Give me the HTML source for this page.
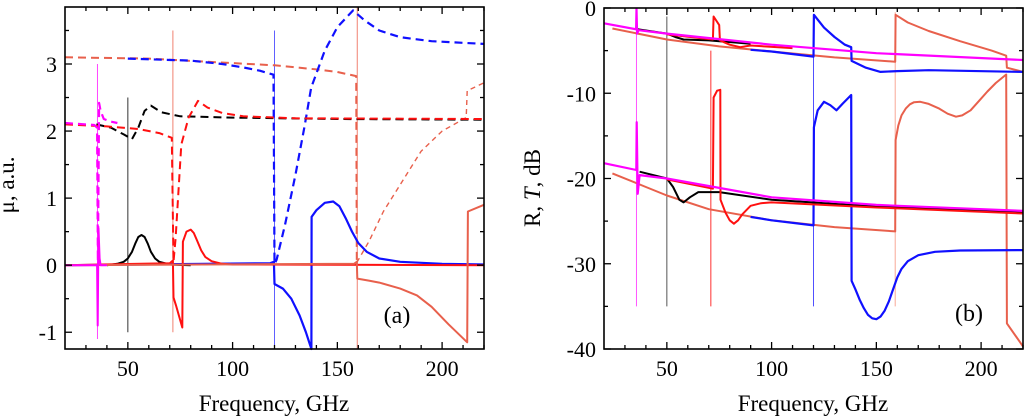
<!DOCTYPE html>
<html><head><meta charset="utf-8"><style>
body{margin:0;background:#fff;}
svg{display:block;font-family:"Liberation Serif",serif;}
</style></head><body>
<svg id="chart" width="1024" height="417" viewBox="0 0 1024 417" xmlns="http://www.w3.org/2000/svg"></svg>
<script>
// ---------- data: panel (a) mu ----------
const xTicks = [50, 100, 150, 200];
const aYTicks = [-1, 0, 1, 2, 3];
const bYTicks = [0, -10, -20, -30, -40];

const aMagentaDash = [[20,2.12],[34,2.09],[35.3,2.05],[35.7,0.05],[36.3,2.42],[37,2.3],[38.5,2.18],[42,2.14],[45,2.12]];
const aMagentaSolid = [[20,0],[35.3,0],[35.6,-0.9],[36,0.55],[36.5,0.1],[37,0],[40,0]];
const aBlackDash = [[35,2.1],[42,2.05],[48,1.95],[52,1.88],[55,2.05],[58,2.3],[61,2.38],[66,2.28],[75,2.22],[100,2.2],[150,2.18],[220,2.17]];
const aBlackSolid = [[40,0],[45,0.02],[48,0.05],[50,0.1],[52,0.2],[53.5,0.32],[55,0.42],[56.5,0.45],[58,0.42],[59.5,0.32],[61,0.2],[63,0.1],[65,0.05],[70,0.01],[80,0]];
const aRedDash = [[20,2.1],[40,2.07],[55,2.03],[65,1.97],[71,1.9],[71.8,0.05],[72.8,0.4],[75.5,1.8],[79,2.2],[83.5,2.45],[88,2.35],[95,2.27],[105,2.22],[130,2.19],[220,2.18]];
const aRedSolid = [[20,0],[70,0.03],[71.5,0.07],[71.8,-0.48],[73,-0.6],[76,-0.93],[76.3,0.35],[78,0.5],[80,0.53],[81.5,0.48],[83,0.37],[85,0.22],[87,0.12],[90,0.06],[95,0.02],[100,0.01],[220,0]];
const aBlueDash = [[50,3.08],[80,3.05],[95,3.0],[105,2.95],[113,2.9],[119.5,2.84],[120,0.02],[121,0.08],[125,0.6],[130,1.35],[134.5,2.1],[137.5,2.65],[144,3.2],[150,3.55],[157.5,3.8],[163,3.65],[170,3.5],[180,3.4],[195,3.34],[220,3.3]];
const aBlueSolid = [[20,0],[118,0.03],[119.7,0.05],[120,-0.28],[124,-0.35],[128,-0.5],[132,-0.75],[135,-1.0],[137.6,-1.25],[137.7,0.72],[140,0.82],[144,0.93],[148,0.95],[151,0.88],[154,0.7],[157,0.5],[160,0.33],[164,0.2],[170,0.1],[180,0.05],[200,0.02],[220,0.01]];
const aSalmonDash = [[20,3.1],[60,3.08],[90,3.03],[120,2.98],[140,2.92],[150,2.88],[159,2.82],[159.3,0.04]];
const aSalmonThinDash = [[159.3,0.04],[165,0.35],[172,0.8],[180,1.2],[190,1.7],[200,2.0],[211.5,2.2],[212,2.6],[220,2.72]];
const aSalmonSolid = [[20,0],[158,0.02],[159.3,0.05],[159.5,-0.2],[165,-0.23],[170,-0.26],[180,-0.35],[188,-0.45],[195,-0.62],[203,-0.88],[212,-1.15],[212.3,0.8],[220,0.9]];
const aMarkers = [[35.5,-1.1,3.0,'#ff44ff'],[50,-1.0,2.5,'#333333'],[71.5,-1.0,3.5,'#f08070'],[120,-1.25,3.5,'#6060ff'],[159.5,-1.25,3.85,'#f08070']];

// ---------- data: panel (b) R,T dB ----------
const bMagentaT = [[20,-1.8],[35.3,-2.5],[35.5,-0.1],[35.8,-3.0],[36.5,-2.6],[50,-3.0],[100,-4.3],[150,-5.3],[220,-6.1]];
const bMagentaR = [[20,-18.2],[35.4,-19.0],[35.6,-13.4],[36.1,-21.8],[37,-19.6],[50,-20.0],[100,-22.2],[150,-23.1],[220,-23.8]];
const bBlackT = [[36,-2.5],[50,-3.0],[54,-3.4],[58,-3.7],[70,-3.8],[90,-4.2]];
const bBlackR = [[37,-19.2],[50,-20.0],[53,-21],[56,-22.5],[58,-22.8],[61,-22.2],[65,-21.6],[75,-21.6],[100,-22.5],[150,-23.3],[220,-23.9]];
const bRedT = [[50,-3.1],[72,-3.7],[72.3,-1.0],[75,-2.0],[75.3,-3.8],[80,-4.3],[85,-4.6],[90,-4.4],[110,-4.7]];
const bRedR = [[50,-20.1],[72,-21.2],[72.3,-10.5],[74,-9.7],[75.5,-9.6],[75.6,-22.5],[78,-24],[80,-24.9],[82,-25.3],[84,-24.9],[86,-24.2],[90,-23.2],[95,-22.9],[100,-22.8],[150,-23.4],[220,-24.1]];
const bBlueT = [[90,-4.9],[100,-5.1],[120,-5.7],[120.2,-0.8],[125,-2.3],[130,-3.4],[135,-4.3],[138,-4.6],[138.2,-6.2],[145,-7.0],[152,-7.5],[160,-7.4],[175,-7.3],[220,-7.5]];
const bBlueR = [[90,-24.5],[100,-24.9],[120,-25.5],[120.2,-14],[122,-12],[125,-11.0],[128,-11.4],[131,-12.0],[134,-11.2],[138,-10.2],[138.2,-32],[140,-33],[142,-34.2],[144,-35.2],[146,-36],[148,-36.4],[150,-36.5],[152,-36.2],[154,-35.5],[156,-34.4],[158,-33],[160,-31.6],[162,-30.6],[165,-29.7],[170,-29],[178,-28.6],[190,-28.45],[220,-28.4]];
const bSalmonT = [[24,-2.4],[50,-3.7],[75,-4.5],[100,-5.1],[130,-5.8],[159,-6.3],[159.2,-0.8],[165,-1.7],[175,-2.7],[190,-3.9],[205,-5.0],[212,-5.6],[212.3,-7.0],[220,-7.5]];
const bSalmonR = [[24,-19.4],[40,-21],[50,-22],[70,-23.6],[100,-24.9],[130,-25.7],[159,-26.2],[159.2,-15.5],[160.5,-13.8],[162,-12.6],[164,-11.8],[166,-11.3],[168,-11.05],[171,-11.0],[175,-11.25],[180,-11.8],[184,-12.4],[188,-12.75],[191,-12.6],[195,-12.0],[199,-10.9],[203,-9.8],[207,-8.8],[212,-7.8],[212.3,-37],[220,-39.7]];
const bMarkers = [[35.5,-35,0,'#ff55ff'],[50,-35,-1,'#555555'],[71,-35,-5,'#ff3030'],[120,-35,-5.5,'#5050ff'],[159,-35,-0.5,'#f8a898']];

// ---------- drawing ----------
const svg = document.getElementById('chart');
const NS = 'http://www.w3.org/2000/svg';
function mk(tag, attrs, parent){const e=document.createElementNS(NS,tag);for(const k in attrs)e.setAttribute(k,attrs[k]);(parent||svg).appendChild(e);return e;}

function makePanel(L,R,T,B,x0,x1,y0,y1){
  return {L,R,T,B,sx:v=>L+(v-x0)/(x1-x0)*(R-L),sy:v=>B-(v-y0)/(y1-y0)*(B-T),x0,x1,y0,y1};
}
const pa = makePanel(65,484,7,349,20,220,-1.25,3.85);
const pb = makePanel(604,1023,8,349,20,220,-40,0);

function frame(p,name,yTicks,yMinorStep,yLabelX){
  const g=mk('g',{});
  
  
  for(let v=30;v<=p.x1;v+=10){
    const major=v%50===0, len=major?7:4, x=p.sx(v);
    mk('line',{x1:x,x2:x,y1:p.B,y2:p.B-len,stroke:'#000','stroke-width':1.3},g);
    mk('line',{x1:x,x2:x,y1:p.T,y2:p.T+len,stroke:'#000','stroke-width':1.3},g);
  }
  for(let v=Math.ceil(p.y0/yMinorStep)*yMinorStep;v<=p.y1+1e-9;v+=yMinorStep){
    const major=yTicks.some(t=>Math.abs(t-v)<1e-6), len=major?7:4, y=p.sy(v);
    mk('line',{x1:p.L,x2:p.L+len,y1:y,y2:y,stroke:'#000','stroke-width':1.3},g);
    mk('line',{x1:p.R,x2:p.R-len,y1:y,y2:y,stroke:'#000','stroke-width':1.3},g);
  }
  xTicks.forEach(v=>{const t=mk('text',{x:p.sx(v),y:p.B+27,'text-anchor':'middle','font-size':22},g);t.textContent=v;
    
    });
  yTicks.forEach(v=>{const t=mk('text',{x:yLabelX,y:p.sy(v)+8,'text-anchor':'end','font-size':22},g);t.textContent=v;
    
    });
}

function line(p,data,color,w,dash,name){
  const d=data.map((pt,i)=>(i?'L':'M')+p.sx(pt[0]).toFixed(1)+' '+p.sy(pt[1]).toFixed(1)).join(' ');
  const e=mk('path',{d,fill:'none',stroke:color,'stroke-width':w,'stroke-linejoin':'round'});
  if(dash)e.setAttribute('stroke-dasharray',dash);
  
  
}
function markers(p,list,name){
  list.forEach(m=>{const e=mk('line',{x1:p.sx(m[0]),x2:p.sx(m[0]),y1:p.sy(m[1]),y2:p.sy(m[2]),stroke:m[3],'stroke-width':1});
    
    });
}

// panel a
markers(pa,aMarkers,'resonance-marker');
const D='8,5';
line(pa,aSalmonDash,'#e8604c',2,D,'salmon-mu-real');
line(pa,aSalmonThinDash,'#e8604c',1.4,'5,4','salmon-mu-real-upper');
line(pa,aBlueDash,'#1010ff',2.2,D,'blue-mu-real');
line(pa,aBlackDash,'#000',2,D,'black-mu-real');
line(pa,aRedDash,'#ff1010',2,D,'red-mu-real');
line(pa,aMagentaDash,'#ff00ff',2.2,D,'magenta-mu-real');
line(pa,aBlackSolid,'#000',2,null,'black-mu-imag');
line(pa,aBlueSolid,'#1010ff',2.2,null,'blue-mu-imag');
line(pa,aRedSolid,'#ff1010',2,null,'red-mu-imag');
line(pa,aSalmonSolid,'#e8604c',2,null,'salmon-mu-imag');
line(pa,aMagentaSolid,'#ff00ff',2,null,'magenta-mu-imag');
mk('rect',{x:pa.L,y:pa.T,width:pa.R-pa.L,height:pa.B-pa.T,fill:'none',stroke:'#000','stroke-width':1.6,});
frame(pa,'panel-a',aYTicks,0.5,57);

// panel b
markers(pb,bMarkers,'resonance-marker');
line(pb,bSalmonT,'#e8604c',2,null,'salmon-T');
line(pb,bSalmonR,'#e8604c',2,null,'salmon-R');
line(pb,bBlueT,'#1010ff',2.2,null,'blue-T');
line(pb,bBlueR,'#1010ff',2.2,null,'blue-R');
line(pb,bBlackT,'#000',2,null,'black-T');
line(pb,bBlackR,'#000',2,null,'black-R');
line(pb,bRedT,'#ff1010',2,null,'red-T');
line(pb,bRedR,'#ff1010',2,null,'red-R');
line(pb,bMagentaT,'#ff00ff',2.2,null,'magenta-T');
line(pb,bMagentaR,'#ff00ff',2.2,null,'magenta-R');
mk('rect',{x:pb.L,y:pb.T,width:pb.R-pb.L,height:pb.B-pb.T,fill:'none',stroke:'#000','stroke-width':1.6,});
frame(pb,'panel-b',bYTicks,5,596);

function txt(x,y,str,name,extra){const t=document.createElementNS(NS,'text');t.setAttribute('x',x);t.setAttribute('y',y);t.setAttribute('font-size',extra&&extra.fs||23);t.setAttribute('text-anchor','middle');if(extra&&extra.tr)t.setAttribute('transform',extra.tr);t.textContent=str;


svg.appendChild(t);return t;}
txt(274,411,'Frequency, GHz','x-axis-title-a');
txt(813,411,'Frequency, GHz','x-axis-title-b');
txt(14,185,'μ, a.u.','y-axis-title-a',{tr:'rotate(-90 14 185)'});
const yb=txt(540,188,'','y-axis-title-b',{tr:'rotate(-90 540 188)'});
yb.innerHTML='R, <tspan font-style="italic">T</tspan>, dB';
txt(397,323,'(a)','panel-label-a',{fs:24});
txt(969,321,'(b)','panel-label-b',{fs:24});
</script>
</body></html>
